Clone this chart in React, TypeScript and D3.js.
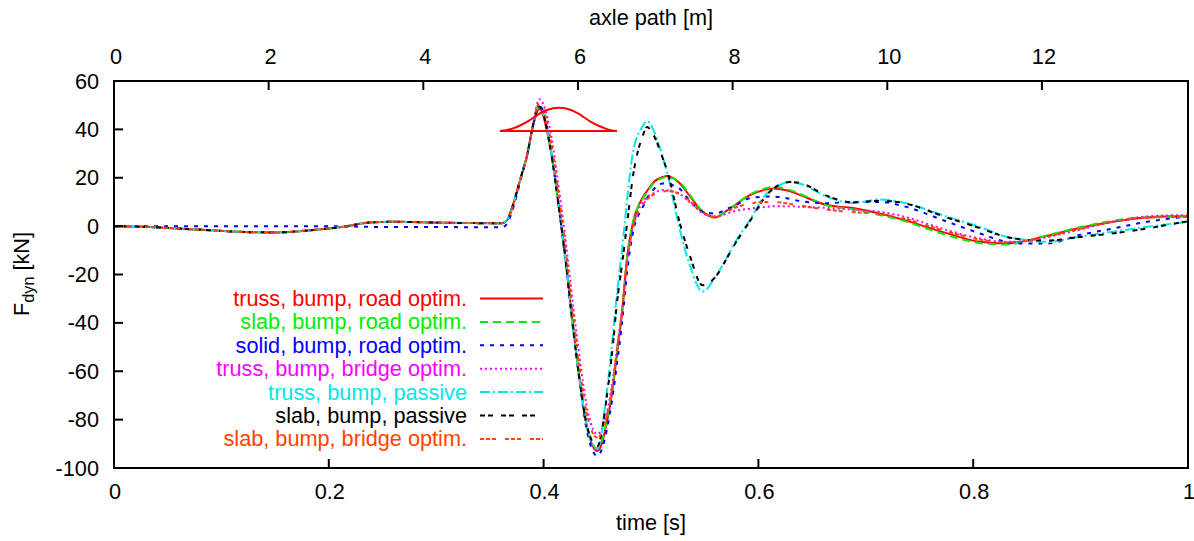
import React from 'react';
import * as d3 from 'd3';

// time grid [s]
const TIME = [
  0, 0.03, 0.06, 0.09, 0.127, 0.152, 0.183, 0.213, 0.238, 0.26, 0.306, 0.361,
  0.366, 0.372, 0.378, 0.385, 0.39, 0.396, 0.406, 0.415, 0.42, 0.426, 0.434, 0.44,
  0.45, 0.459, 0.465, 0.468, 0.473, 0.478, 0.483, 0.4925, 0.4963, 0.502, 0.511, 0.515,
  0.527, 0.536, 0.548, 0.56, 0.571, 0.576, 0.592, 0.608, 0.614, 0.629, 0.639, 0.664,
  0.688, 0.713, 0.732, 0.776, 0.806, 0.831, 0.846, 0.869, 0.899, 0.93, 0.962, 0.993, 1.0,
];

const TRUSS_ROAD = [
  0, -0.3, -1.0, -1.7, -2.5, -2.6, -1.7, -0.3, 1.5, 1.8, 1.4, 1.2,
  2.5, 9.5, 19, 30, 41, 48.5, 33, 5.4, -12, -36, -65, -82,
  -93, -81, -65, -54, -36, -12, 1, 12, 14.5, 18, 20.3, 20.7,
  17.6, 12.5, 6, 3.6, 6.5, 8, 12.8, 15.2, 15.6, 14.5, 12.8, 8.7,
  7.5, 5.2, 3, -3, -6.5, -7.2, -6.3, -4, -0.8, 1.8, 3.6, 4.1, 4.1,
];

const SLAB_ROAD = [
  0, -0.3, -1.0, -1.7, -2.5, -2.6, -1.7, -0.3, 1.5, 1.8, 1.4, 1.2,
  2.5, 9.5, 19, 30, 41.5, 49.5, 33.5, 5.6, -12, -36, -65, -82,
  -92, -80, -64, -53, -35, -12, 1, 11.5, 14, 17.5, 20, 20.3,
  18, 13, 6.2, 3.7, 6.5, 8, 13, 15.8, 16.3, 15, 13.3, 8.5,
  7, 4.6, 2.6, -3.8, -7, -7.6, -6.5, -3.8, -0.5, 2.2, 3.8, 4.1, 4.1,
];

const SOLID_ROAD = [
  0, 0, 0, 0, 0, 0, 0, -0.1, -0.3, -0.4, -0.4, -0.5,
  1.0, 8, 18, 30, 41.5, 50, 34, 5, -13, -37, -66, -84,
  -95, -84, -68, -58, -40, -18, -3, 8, 11.5, 15, 17.6, 17.4,
  15.3, 10.5, 6, 5.2, 7.2, 8, 11.5, 12.2, 12.2, 11.3, 10.3, 9.5,
  10, 10, 8.6, 1.8, -3, -6.5, -7.2, -7.2, -3.7, -1, 1.8, 3.6, 3.8,
];

const TRUSS_BRIDGE = [
  0, -0.3, -1.0, -1.7, -2.5, -2.6, -1.7, -0.3, 1.5, 1.8, 1.4, 1.2,
  2.5, 9, 18.5, 30, 42, 52.5, 40, 13, -4, -27, -56, -74,
  -86, -77, -62, -52, -35, -14, -1, 10, 12, 13.5, 14.9, 14.8,
  13.2, 10, 5.5, 4.1, 5.2, 6, 7.2, 8, 8.2, 8.2, 8, 7.5,
  6.8, 5.9, 4.3, -1.7, -5.1, -6.5, -6.3, -4.5, -1.5, 1.8, 4, 4.5, 4.5,
];

const TRUSS_PASSIVE = [
  0, -0.3, -1.0, -1.7, -2.5, -2.6, -1.7, -0.3, 1.5, 1.8, 1.4, 1.2,
  2.5, 9.5, 19, 30, 41.5, 50, 33, 5, -12, -36, -65, -82,
  -92, -68, -43, -29, -10, 12, 30, 41.5, 43.5, 40, 28.5, 22,
  -1.7, -16, -27, -21, -12.7, -8.5, 2.5, 13.6, 15.5, 18.3, 17.5, 12.1,
  9.6, 11, 10, 3.9, -0.3, -4.4, -5.5, -6.5, -4.4, -2.3, -0.3, 1.4, 1.8,
];

const SLAB_PASSIVE = [
  0, -0.3, -1.0, -1.7, -2.5, -2.6, -1.7, -0.3, 1.5, 1.8, 1.4, 1.2,
  2.5, 9.5, 19, 30, 41.5, 49.5, 33, 5, -12, -36, -65, -82,
  -91, -70, -47, -33, -16, 2, 20, 37.5, 41, 38, 28, 23,
  1, -12, -24.4, -21, -13, -9, 2, 13, 15.5, 18.2, 17.8, 12.5,
  9.8, 10.5, 9.8, 3.5, -0.8, -4.5, -5.5, -6, -4.5, -3, -1, 1.5, 2.0,
];

const SLAB_BRIDGE = [
  0, -0.3, -1.0, -1.7, -2.5, -2.6, -1.7, -0.3, 1.5, 1.8, 1.4, 1.2,
  2.5, 9.5, 19, 30, 41.5, 51, 37, 10, -7, -31, -60, -77,
  -87.5, -78, -63, -52, -35, -14, -1, 9, 11, 13, 14.3, 14.5,
  13.3, 10.3, 5.5, 3.8, 6, 7.2, 9.3, 10, 10, 9.2, 8.5, 6.8,
  5.8, 5, 3.5, -2.3, -5.5, -6.7, -6.3, -4.3, -1.2, 1.8, 3.5, 3.8, 3.8,
];

const SERIES_VALUES = [TRUSS_ROAD, SLAB_ROAD, SOLID_ROAD, TRUSS_BRIDGE, TRUSS_PASSIVE, SLAB_PASSIVE, SLAB_BRIDGE];
const SERIES_LABELS = [
  'truss, bump, road optim.',
  'slab, bump, road optim.',
  'solid, bump, road optim.',
  'truss, bump, bridge optim.',
  'truss, bump, passive',
  'slab, bump, passive',
  'slab, bump, bridge optim.',
];

// bump sketch (time [s], F [kN])
const BUMP_T = [0.3594, 0.365, 0.3715, 0.378, 0.3845, 0.3911, 0.3966, 0.4032, 0.4143, 0.4255, 0.432, 0.4376, 0.4441, 0.4507, 0.4572, 0.4628, 0.4683];
const BUMP_V = [39.3, 39.6, 40.4, 41.6, 43.1, 45.0, 46.6, 48.0, 48.9, 48.0, 46.6, 45.0, 43.1, 41.6, 40.4, 39.6, 39.3];
const BUMP_BASE = 39.3;

const X_TICKS = [0, 0.2, 0.4, 0.6, 0.8, 1];
const X_TICK_LABELS = ['0', '0.2', '0.4', '0.6', '0.8', '1'];
const X2_TICKS = [0, 2, 4, 6, 8, 10, 12];
const X2_MAX = 13.889; // 50 km/h * 1 s
const Y_TICKS = [-100, -80, -60, -40, -20, 0, 20, 40, 60];

const COLORS = ['#ff0000', '#00ee00', '#0000ff', '#ff00ff', '#00e8e8', '#000000', '#ff4400'];
const DASHES = ['', '8,5', '4,6', '2,3', '10,3,2,3', '5,3,5,8', '4,2,4,2,4,9'];

const W = 1194, H = 541;
const X0 = 114, X1 = 1188, Y0 = 81, Y1 = 468;
const FONT = '"Liberation Sans", Arial, Helvetica, sans-serif';
const FS = 21.7;

export default function App() {
  const x = d3.scaleLinear().domain([0, 1]).range([X0, X1]);
  const x2 = d3.scaleLinear().domain([0, X2_MAX]).range([X0, X1]);
  const y = d3.scaleLinear().domain([-100, 60]).range([Y1, Y0]);

  const line = d3.line<number>()
    .x((_, i) => x(TIME[i]))
    .y((d) => y(d))
    .curve(d3.curveMonotoneX);

  const bumpLine = d3.line<number>()
    .x((_, i) => x(BUMP_T[i]))
    .y((d) => y(d))
    .curve(d3.curveMonotoneX);

  const legendY0 = 298.5;
  const legendDY = 23.4;

  return (
    <div style={{ position: 'fixed', left: 0, top: 0 }}>
      <svg width={W} height={H} viewBox={`0 0 ${W} ${H}`} style={{ display: 'block', background: '#fff' }} fontFamily={FONT}>
        <defs>
          <clipPath id="plot">
            <rect x={X0} y={Y0} width={X1 - X0} height={Y1 - Y0} />
          </clipPath>
        </defs>
        <rect x={0} y={0} width={W} height={H} fill="#fff" />

        {/* curves */}
        <g clipPath="url(#plot)" fill="none">
          {SERIES_VALUES.map((vals, k) => (
            <path key={k} d={line(vals) || ''} stroke={COLORS[k]} strokeWidth={2}
              strokeDasharray={DASHES[k] || undefined} />
          ))}
          {/* bump sketch */}
          <path d={bumpLine(BUMP_V) || ''} stroke="#ff0000" strokeWidth={2} />
          <line x1={x(BUMP_T[0])} x2={x(BUMP_T[BUMP_T.length - 1])} y1={y(BUMP_BASE)} y2={y(BUMP_BASE)} stroke="#ff0000" strokeWidth={2} />
        </g>

        {/* legend */}
        <g fontSize={FS}>
          {SERIES_LABELS.map((lab, k) => {
            const yy = legendY0 + k * legendDY;
            return (
              <g key={k}>
                <text x={467} y={yy} dy="0.35em" textAnchor="end" fill={COLORS[k]}>{lab}</text>
                <line x1={480} x2={543} y1={yy} y2={yy} stroke={COLORS[k]} strokeWidth={2}
                  strokeDasharray={DASHES[k] || undefined} />
              </g>
            );
          })}
        </g>

        {/* ticks */}
        <g stroke="#000" strokeWidth={2}>
          {Y_TICKS.map((v) => (
            <line key={'y' + v} x1={X0} x2={X0 + 9} y1={y(v)} y2={y(v)} />
          ))}
          {X_TICKS.map((v) => (
            <line key={'x' + v} x1={x(v)} x2={x(v)} y1={Y1} y2={Y1 - 9} />
          ))}
          {X2_TICKS.map((v) => (
            <line key={'x2' + v} x1={x2(v)} x2={x2(v)} y1={Y0} y2={Y0 + 9} />
          ))}
        </g>

        {/* frame */}
        <rect x={X0} y={Y0} width={X1 - X0} height={Y1 - Y0} fill="none" stroke="#000" strokeWidth={2} />

        {/* tick labels */}
        <g fontSize={FS} fill="#000">
          {Y_TICKS.map((v) => (
            <text key={'yl' + v} x={99} y={y(v)} dy="0.35em" textAnchor="end">{String(v)}</text>
          ))}
          {X_TICKS.map((v, i) => (
            <text key={'xl' + v} x={x(v) + 1} y={499} textAnchor="middle">{X_TICK_LABELS[i]}</text>
          ))}
          {X2_TICKS.map((v) => (
            <text key={'x2l' + v} x={x2(v) + 2} y={64} textAnchor="middle">{String(v)}</text>
          ))}
        </g>

        {/* axis titles */}
        <g fontSize={FS} fill="#000">
          <text x={651} y={25} textAnchor="middle">axle path [m]</text>
          <text x={651} y={530} textAnchor="middle">time [s]</text>
          <text transform={`translate(29, 274) rotate(-90)`} textAnchor="middle">
            F<tspan fontSize={FS * 0.75} dy={5}>dyn</tspan><tspan dy={-5}> [kN]</tspan>
          </text>
        </g>
      </svg>
    </div>
  );
}
